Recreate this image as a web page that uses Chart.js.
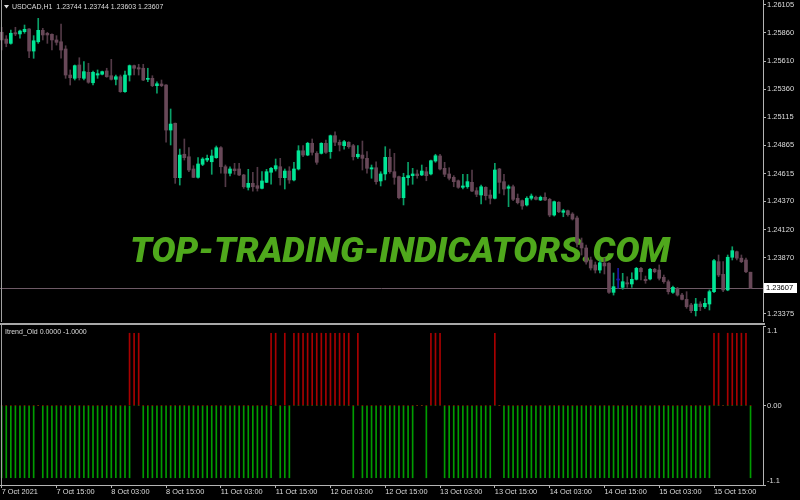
<!DOCTYPE html>
<html>
<head>
<meta charset="utf-8">
<script src="https://cdn.jsdelivr.net/npm/chart.js@4.4.1/dist/chart.umd.min.js"></script>
<style>
  html, body { margin: 0; padding: 0; background: #000; }
  #wrap { position: relative; width: 800px; height: 500px; background: #000; overflow: hidden; }
  #main { position: absolute; left: 0; top: 0; }
  #ind { position: absolute; left: 0; top: 322px; }
</style>
</head>
<body>
<div id="wrap">
  <canvas id="main" width="800" height="322"></canvas>
  <canvas id="ind" width="800" height="178"></canvas>
</div>
<script>
// USDCAD H1, 7 Oct 03:00 .. 15 Oct 23:00, one entry per bar
const symbol = 'USDCAD,H1'
const opens = [
  1.25864, 1.25804, 1.25766, 1.25860, 1.25849, 1.25869, 1.25893, 1.25698, 1.25780, 1.25881,
  1.25855, 1.25846, 1.25796, 1.25780, 1.25716, 1.25486, 1.25457, 1.25575, 1.25457, 1.25510,
  1.25418, 1.25486, 1.25493, 1.25522, 1.25480, 1.25448, 1.25471, 1.25339, 1.25486, 1.25569,
  1.25551, 1.25546, 1.25448, 1.25457, 1.25392, 1.25407, 1.25398, 1.25000, 1.25060, 1.24579,
  1.24786, 1.24764, 1.24656, 1.24582, 1.24697, 1.24735, 1.24720, 1.24756, 1.24844, 1.24676,
  1.24618, 1.24656, 1.24656, 1.24603, 1.24494, 1.24529, 1.24508, 1.24485, 1.24538, 1.24627,
  1.24656, 1.24676, 1.24579, 1.24638, 1.24559, 1.24656, 1.24817, 1.24779, 1.24883, 1.24794,
  1.24794, 1.24883, 1.24809, 1.24950, 1.24892, 1.24862, 1.24892, 1.24862, 1.24764, 1.24779,
  1.24750, 1.24656, 1.24667, 1.24550, 1.24612, 1.24759, 1.24632, 1.24588, 1.24402, 1.24579,
  1.24597, 1.24612, 1.24603, 1.24632, 1.24612, 1.24726, 1.24771, 1.24662, 1.24612, 1.24582,
  1.24552, 1.24494, 1.24499, 1.24538, 1.24464, 1.24426, 1.24494, 1.24426, 1.24397, 1.24656,
  1.24544, 1.24485, 1.24499, 1.24397, 1.24376, 1.24338, 1.24397, 1.24406, 1.24382, 1.24406,
  1.24388, 1.24249, 1.24362, 1.24273, 1.24287, 1.24258, 1.24223, 1.24002, 1.23958, 1.23852,
  1.23808, 1.23763, 1.23825, 1.23823, 1.23566, 1.23675, 1.23610, 1.23651, 1.23640, 1.23681,
  1.23778, 1.23681, 1.23684, 1.23770, 1.23763, 1.23699, 1.23660, 1.23566, 1.23602, 1.23542,
  1.23504, 1.23454, 1.23404, 1.23463, 1.23439, 1.23463, 1.23572, 1.23837, 1.23725, 1.23587,
  1.23876, 1.23925, 1.23868, 1.23852, 1.23744,
]
const highs = [
  1.25908, 1.25834, 1.25884, 1.25908, 1.25884, 1.25928, 1.25897, 1.25834, 1.25987, 1.25899,
  1.25864, 1.25849, 1.25834, 1.25937, 1.25745, 1.25531, 1.25575, 1.25639, 1.25604, 1.25590,
  1.25522, 1.25531, 1.25522, 1.25546, 1.25625, 1.25486, 1.25486, 1.25522, 1.25575, 1.25575,
  1.25581, 1.25581, 1.25546, 1.25480, 1.25427, 1.25442, 1.25402, 1.25186, 1.25062, 1.24832,
  1.24921, 1.24844, 1.24685, 1.24756, 1.24756, 1.24779, 1.24824, 1.24859, 1.24853, 1.24691,
  1.24676, 1.24706, 1.24706, 1.24609, 1.24653, 1.24627, 1.24671, 1.24632, 1.24653, 1.24671,
  1.24744, 1.24750, 1.24656, 1.24676, 1.24715, 1.24862, 1.24862, 1.24892, 1.24921, 1.24809,
  1.24888, 1.24912, 1.24956, 1.24985, 1.24912, 1.24909, 1.24897, 1.24874, 1.24862, 1.24903,
  1.24809, 1.24691, 1.24720, 1.24632, 1.24853, 1.24832, 1.24794, 1.24594, 1.24618, 1.24715,
  1.24662, 1.24647, 1.24691, 1.24671, 1.24735, 1.24786, 1.24786, 1.24715, 1.24667, 1.24597,
  1.24559, 1.24609, 1.24609, 1.24647, 1.24491, 1.24514, 1.24499, 1.24470, 1.24706, 1.24662,
  1.24609, 1.24514, 1.24514, 1.24435, 1.24382, 1.24411, 1.24435, 1.24417, 1.24417, 1.24446,
  1.24397, 1.24373, 1.24367, 1.24300, 1.24293, 1.24270, 1.24240, 1.24046, 1.23984, 1.23878,
  1.23834, 1.23852, 1.23869, 1.23828, 1.23737, 1.23778, 1.23734, 1.23704, 1.23739, 1.23787,
  1.23787, 1.23710, 1.23778, 1.23778, 1.23808, 1.23719, 1.23675, 1.23622, 1.23610, 1.23557,
  1.23572, 1.23469, 1.23513, 1.23483, 1.23513, 1.23587, 1.23858, 1.23896, 1.23837, 1.23896,
  1.23969, 1.23931, 1.23896, 1.23868, 1.23744,
]
const lows = [
  1.25707, 1.25736, 1.25758, 1.25834, 1.25811, 1.25855, 1.25639, 1.25634, 1.25766, 1.25796,
  1.25766, 1.25707, 1.25751, 1.25634, 1.25457, 1.25398, 1.25442, 1.25442, 1.25442, 1.25413,
  1.25398, 1.25457, 1.25486, 1.25466, 1.25442, 1.25398, 1.25333, 1.25333, 1.25433, 1.25486,
  1.25486, 1.25436, 1.25427, 1.25383, 1.25325, 1.25383, 1.24892, 1.24868, 1.24529, 1.24514,
  1.24735, 1.24632, 1.24579, 1.24574, 1.24685, 1.24720, 1.24609, 1.24750, 1.24618, 1.24499,
  1.24594, 1.24609, 1.24597, 1.24485, 1.24470, 1.24461, 1.24461, 1.24479, 1.24535, 1.24521,
  1.24638, 1.24514, 1.24479, 1.24529, 1.24550, 1.24647, 1.24764, 1.24773, 1.24779, 1.24697,
  1.24788, 1.24794, 1.24750, 1.24862, 1.24815, 1.24832, 1.24839, 1.24735, 1.24750, 1.24647,
  1.24618, 1.24574, 1.24521, 1.24506, 1.24559, 1.24618, 1.24521, 1.24391, 1.24338, 1.24514,
  1.24521, 1.24574, 1.24597, 1.24552, 1.24603, 1.24715, 1.24647, 1.24588, 1.24559, 1.24499,
  1.24485, 1.24479, 1.24485, 1.24455, 1.24411, 1.24347, 1.24382, 1.24347, 1.24391, 1.24441,
  1.24426, 1.24323, 1.24376, 1.24347, 1.24300, 1.24329, 1.24382, 1.24382, 1.24376, 1.24376,
  1.24234, 1.24240, 1.24270, 1.24234, 1.24240, 1.24205, 1.23967, 1.23896, 1.23816, 1.23763,
  1.23737, 1.23737, 1.23728, 1.23557, 1.23542, 1.23602, 1.23593, 1.23610, 1.23610, 1.23675,
  1.23675, 1.23646, 1.23675, 1.23739, 1.23675, 1.23646, 1.23551, 1.23557, 1.23533, 1.23498,
  1.23425, 1.23386, 1.23357, 1.23404, 1.23425, 1.23410, 1.23563, 1.23704, 1.23572, 1.23580,
  1.23852, 1.23852, 1.23828, 1.23739, 1.23603,
]
const closes = [
  1.25796, 1.25766, 1.25855, 1.25849, 1.25875, 1.25890, 1.25698, 1.25789, 1.25881, 1.25840,
  1.25840, 1.25796, 1.25775, 1.25707, 1.25486, 1.25462, 1.25569, 1.25462, 1.25516, 1.25422,
  1.25510, 1.25498, 1.25516, 1.25471, 1.25448, 1.25471, 1.25339, 1.25486, 1.25569, 1.25546,
  1.25539, 1.25442, 1.25457, 1.25392, 1.25409, 1.25392, 1.25000, 1.25053, 1.24579, 1.24779,
  1.24756, 1.24647, 1.24582, 1.24700, 1.24744, 1.24750, 1.24771, 1.24844, 1.24676, 1.24618,
  1.24656, 1.24641, 1.24603, 1.24499, 1.24529, 1.24499, 1.24485, 1.24550, 1.24632, 1.24662,
  1.24685, 1.24579, 1.24638, 1.24559, 1.24656, 1.24817, 1.24779, 1.24883, 1.24803, 1.24715,
  1.24883, 1.24803, 1.24950, 1.24892, 1.24868, 1.24897, 1.24853, 1.24764, 1.24786, 1.24750,
  1.24662, 1.24667, 1.24544, 1.24612, 1.24759, 1.24632, 1.24582, 1.24402, 1.24582, 1.24597,
  1.24612, 1.24597, 1.24638, 1.24597, 1.24729, 1.24773, 1.24656, 1.24609, 1.24574, 1.24544,
  1.24494, 1.24506, 1.24544, 1.24461, 1.24432, 1.24499, 1.24420, 1.24397, 1.24647, 1.24538,
  1.24479, 1.24499, 1.24388, 1.24358, 1.24329, 1.24397, 1.24417, 1.24388, 1.24406, 1.24382,
  1.24249, 1.24367, 1.24278, 1.24287, 1.24252, 1.24214, 1.24002, 1.23958, 1.23834, 1.23781,
  1.23763, 1.23828, 1.23799, 1.23566, 1.23616, 1.23675, 1.23660, 1.23640, 1.23681, 1.23778,
  1.23748, 1.23669, 1.23770, 1.23748, 1.23690, 1.23660, 1.23572, 1.23610, 1.23542, 1.23504,
  1.23439, 1.23404, 1.23463, 1.23439, 1.23469, 1.23572, 1.23846, 1.23719, 1.23587, 1.23876,
  1.23934, 1.23868, 1.23837, 1.23748, 1.23607,
]

// Itrend_Old buffers: 1 = red bar up, -1 = green bar down, 0 = empty
const indName = 'Itrend_Old'
const itrendUp = [
  0, 0, 0, 0, 0, 0, 0, 0, 0, 0,
  0, 0, 0, 0, 0, 0, 0, 0, 0, 0,
  0, 0, 0, 0, 0, 0, 0, 0, 1, 1,
  1, 0, 0, 0, 0, 0, 0, 0, 0, 0,
  0, 0, 0, 0, 0, 0, 0, 0, 0, 0,
  0, 0, 0, 0, 0, 0, 0, 0, 0, 1,
  1, 0, 1, 0, 1, 1, 1, 1, 1, 1,
  1, 1, 1, 1, 1, 1, 1, 0, 1, 0,
  0, 0, 0, 0, 0, 0, 0, 0, 0, 0,
  0, 0, 0, 0, 1, 1, 1, 0, 0, 0,
  0, 0, 0, 0, 0, 0, 0, 0, 1, 0,
  0, 0, 0, 0, 0, 0, 0, 0, 0, 0,
  0, 0, 0, 0, 0, 0, 0, 0, 0, 0,
  0, 0, 0, 0, 0, 0, 0, 0, 0, 0,
  0, 0, 0, 0, 0, 0, 0, 0, 0, 0,
  0, 0, 0, 0, 0, 0, 1, 1, 0, 1,
  1, 1, 1, 1, 0,
]
const itrendDown = [
  -1, -1, -1, -1, -1, -1, -1, -1, 0, -1,
  -1, -1, -1, -1, -1, -1, -1, -1, -1, -1,
  -1, -1, -1, -1, -1, -1, -1, -1, -1, 0,
  0, -1, -1, -1, -1, -1, -1, -1, -1, -1,
  -1, -1, -1, -1, -1, -1, -1, -1, -1, -1,
  -1, -1, -1, -1, -1, -1, -1, -1, -1, -1,
  0, -1, -1, -1, 0, 0, 0, 0, 0, 0,
  0, 0, 0, 0, 0, 0, 0, -1, 0, -1,
  -1, -1, -1, -1, -1, -1, -1, -1, -1, -1,
  -1, 0, 0, -1, 0, 0, 0, -1, -1, -1,
  -1, -1, -1, -1, -1, -1, -1, -1, 0, 0,
  -1, -1, -1, -1, -1, -1, -1, -1, -1, -1,
  -1, -1, -1, -1, -1, -1, -1, -1, -1, -1,
  -1, -1, -1, -1, -1, -1, -1, -1, -1, -1,
  -1, -1, -1, -1, -1, -1, -1, -1, -1, -1,
  -1, -1, -1, -1, -1, -1, 0, 0, 0, 0,
  0, 0, 0, 0, -1,
]

// Подписи осей
const priceTicks = [1.23375, 1.23870, 1.24120, 1.24370, 1.24615, 1.24865, 1.25115, 1.25360, 1.25610, 1.25860, 1.26105]
const xTickBars = [0, 12, 24, 36, 48, 60, 72, 84, 96, 108, 120, 132, 144, 156]
const xTickLabels = [
  '7 Oct 2021', '7 Oct 15:00', '8 Oct 03:00', '8 Oct 15:00', '11 Oct 03:00', '11 Oct 15:00', '12 Oct 03:00',
  '12 Oct 15:00', '13 Oct 03:00', '13 Oct 15:00', '14 Oct 03:00', '14 Oct 15:00', '15 Oct 03:00', '15 Oct 15:00',
]
const indTicks = [-1.1, 0, 1.1]
const indTickLabels = [['-1.1', ''], '0.00', ['', '1.1']]

// Цвета терминала
const BULL = '#00e696'
const BEAR = '#684858'
const BULL_WICK = '#0aa068'
const BEAR_WICK = '#533a47'
const DOJI = '#1a1aa8'
const AXIS = '#b4b4b4'
const TEXT = '#dcdcdc'
const FONT = '"Liberation Sans", Arial, sans-serif'

Chart.defaults.font.family = FONT
Chart.defaults.color = TEXT

const last = closes.length - 1
const X_MIN = -0.372
const X_MAX = 166.73

function candleColor(i, up, down, flat) {
  if (closes[i] > opens[i]) return up
  if (closes[i] < opens[i]) return down
  return flat
}

// Убрать лишние отступы, которые Chart.js добавляет под подписи
function fixPadding(scale) {
  scale.paddingTop = 0
  scale.paddingBottom = 0
  scale.paddingLeft = 0
  scale.paddingRight = 0
}

const mainDecor = {
  id: 'mainDecor',
  beforeDatasetsDraw(chart) {
    const { ctx, chartArea, scales } = chart
    ctx.save()
    // водяной знак
    const text = 'TOP-TRADING-INDICATORS.COM'
    ctx.font = 'italic 900 35px Roboto, "Liberation Sans", sans-serif'
    const w = ctx.measureText(text).width
    ctx.translate(130, 262)
    ctx.scale(540 / w, 1)
    ctx.fillStyle = '#4fa81c'
    ctx.textBaseline = 'alphabetic'
    ctx.fillText(text, 0, 0)
    ctx.restore()

    // линия текущей цены
    const py = Math.round(scales.y.getPixelForValue(closes[last])) + 0.5
    ctx.save()
    ctx.strokeStyle = '#6e5a66'
    ctx.lineWidth = 1
    ctx.beginPath()
    ctx.moveTo(chartArea.left, py)
    ctx.lineTo(chartArea.right, py)
    ctx.stroke()
    ctx.restore()
  },
  afterDraw(chart) {
    const { ctx, chartArea, scales } = chart
    ctx.save()
    // левая рамка окна
    ctx.fillStyle = '#a0a0a0'
    ctx.fillRect(1, 0, 1, chartArea.bottom)

    // заголовок с OHLC последнего бара
    ctx.fillStyle = TEXT
    ctx.beginPath()
    ctx.moveTo(4, 5)
    ctx.lineTo(9, 5)
    ctx.lineTo(6.5, 8.5)
    ctx.closePath()
    ctx.fill()
    ctx.font = '7px ' + FONT
    ctx.textBaseline = 'middle'
    const ohlc = [opens[last], highs[last], lows[last], closes[last]].map((v) => v.toFixed(5)).join(' ')
    ctx.fillText(symbol + '  ' + ohlc, 12, 7)

    // метка цены на оси
    const py = Math.round(scales.y.getPixelForValue(closes[last]))
    ctx.fillStyle = '#ffffff'
    ctx.fillRect(764, py - 5, 33, 10)
    ctx.fillStyle = '#000000'
    ctx.font = '7.5px ' + FONT
    ctx.fillText(closes[last].toFixed(5), 766, py)
    ctx.restore()
  },
}

new Chart(document.getElementById('main'), {
  type: 'bar',
  data: {
    datasets: [
      {
        data: highs.map((h, i) => ({ x: i, y: [lows[i], h] })),
        backgroundColor: (c) => candleColor(c.dataIndex, BULL_WICK, BEAR_WICK, DOJI),
        barThickness: 1,
        grouped: false,
        order: 2,
      },
      {
        data: opens.map((o, i) => ({ x: i, y: [o, closes[i]] })),
        backgroundColor: (c) => candleColor(c.dataIndex, BULL, BEAR, DOJI),
        barThickness: 3,
        minBarLength: 1,
        grouped: false,
        order: 1,
      },
    ],
  },
  options: {
    responsive: false,
    animation: false,
    events: [],
    layout: { padding: 0, autoPadding: false },
    plugins: { legend: { display: false }, tooltip: { enabled: false } },
    scales: {
      x: { type: 'linear', min: X_MIN, max: X_MAX, offset: false, display: false },
      y: {
        position: 'right',
        min: 1.23304,
        max: 1.26149,
        afterBuildTicks(s) {
          s.ticks = priceTicks.map((v) => ({ value: v }))
        },
        afterFit(s) {
          s.width = 37
          fixPadding(s)
        },
        ticks: {
          callback: (v) => Number(v).toFixed(5),
          font: { size: 7.5 },
          color: TEXT,
          padding: 1,
          autoSkip: false,
        },
        grid: { drawOnChartArea: false, tickLength: 3, color: AXIS },
        border: { color: AXIS },
      },
    },
  },
  plugins: [mainDecor],
})

const indDecor = {
  id: 'indDecor',
  afterDraw(chart) {
    const { ctx, chartArea } = chart
    ctx.save()
    ctx.fillStyle = '#a8a8a8'
    ctx.fillRect(0, 1, 765, 2)
    ctx.fillStyle = '#a0a0a0'
    ctx.fillRect(1, 3, 1, chartArea.bottom - 3)
    ctx.fillStyle = TEXT
    ctx.font = '7px ' + FONT
    ctx.textBaseline = 'middle'
    ctx.fillText(indName + ' ' + itrendUp[last].toFixed(4) + ' ' + itrendDown[last].toFixed(4), 5, 10)
    ctx.restore()
  },
}

new Chart(document.getElementById('ind'), {
  type: 'bar',
  data: {
    datasets: [
      {
        data: itrendUp.map((v, i) => ({ x: i, y: v })),
        backgroundColor: '#a80000',
        barThickness: 1,
        grouped: false,
      },
      {
        data: itrendDown.map((v, i) => ({ x: i, y: v })),
        backgroundColor: '#009c00',
        barThickness: 1,
        grouped: false,
      },
    ],
  },
  options: {
    responsive: false,
    animation: false,
    events: [],
    layout: { padding: { top: 4, left: 0, right: 0, bottom: 0 }, autoPadding: false },
    plugins: { legend: { display: false }, tooltip: { enabled: false } },
    scales: {
      x: {
        type: 'linear',
        min: X_MIN,
        max: X_MAX,
        offset: false,
        afterBuildTicks(s) {
          s.ticks = xTickBars.map((v) => ({ value: v }))
        },
        afterFit(s) {
          s.height = 15
          fixPadding(s)
        },
        ticks: {
          callback: (v, i) => xTickLabels[i],
          align: 'start',
          autoSkip: false,
          maxRotation: 0,
          font: { size: 7.4 },
          color: TEXT,
          padding: 0,
        },
        grid: { drawOnChartArea: false, tickLength: 3, color: AXIS, offset: false },
        border: { color: AXIS },
      },
      y: {
        position: 'right',
        min: -1.1,
        max: 1.1,
        afterBuildTicks(s) {
          s.ticks = indTicks.map((v) => ({ value: v }))
        },
        afterFit(s) {
          s.width = 37
          fixPadding(s)
        },
        ticks: {
          callback: (v, i) => indTickLabels[i],
          font: { size: 7.5 },
          color: TEXT,
          padding: 1,
          autoSkip: false,
        },
        grid: { drawOnChartArea: false, tickLength: 3, color: AXIS },
        border: { color: AXIS },
      },
    },
  },
  plugins: [indDecor],
})
</script>
</body>
</html>
